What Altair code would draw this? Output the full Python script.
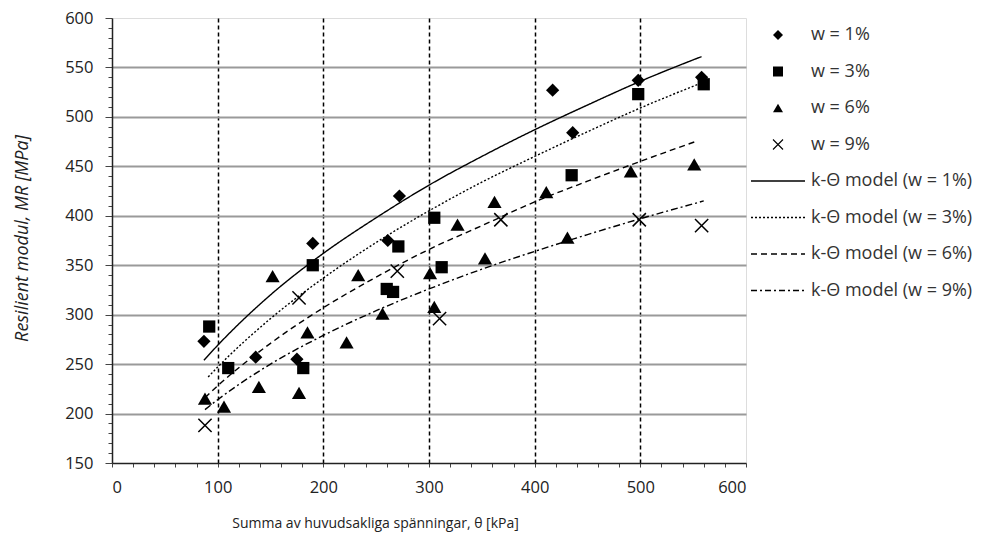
import altair as alt
import pandas as pd

# ---- measured data (w = water content) ----
d1_x = [87, 136, 175, 190, 261, 272, 417, 436, 498, 558]
d1_y = [273, 257, 255, 372, 375, 420, 527, 484, 537, 540]

d3_x = [92, 110, 181, 190, 260, 266, 271, 305, 312, 435, 498, 560]
d3_y = [288, 246, 246, 350, 326, 323, 369, 398, 348, 441, 523, 533]

d6_x = [88, 106, 139, 152, 177, 185, 222, 233, 256, 301, 305, 327, 353, 362, 411, 431, 491, 551]
d6_y = [215, 207, 227, 339, 221, 282, 272, 340, 301, 342, 308, 391, 357, 414, 424, 378, 445, 452]

d9_x = [88, 177, 270, 310, 368, 499, 558]
d9_y = [188, 317, 344, 296, 396, 396, 390]

# ---- k-theta model curves ----
m1_x = [87, 100, 150, 200, 250, 300, 350, 400, 450, 500, 558]
m1_y = [254, 269, 320, 362, 398, 431, 460, 487, 512, 536, 561]
m3_x = [91, 100, 150, 200, 250, 300, 350, 400, 450, 500, 557]
m3_y = [237, 247, 296, 337, 373, 405, 434, 460, 485, 509, 534]
m6_x = [88, 100, 150, 200, 250, 300, 350, 400, 450, 500, 552]
m6_y = [216, 228, 271, 307, 338, 366, 390, 414, 435, 455, 475]
m9_x = [88, 100, 150, 200, 250, 300, 350, 400, 450, 500, 560]
m9_y = [204, 214, 250, 279, 304, 326, 346, 364, 381, 397, 415]

point_labels = ["w = 1%", "w = 3%", "w = 6%", "w = 9%"]
model_labels = ["k-\u0398 model (w = 1%)", "k-\u0398 model (w = 3%)",
                "k-\u0398 model (w = 6%)", "k-\u0398 model (w = 9%)"]

x_ticks = list(range(0, 601, 20))
y_ticks = list(range(150, 601, 10))

rows = []
for lab, xs, ys in zip(point_labels, [d1_x, d3_x, d6_x, d9_x], [d1_y, d3_y, d6_y, d9_y]):
    rows += [{"theta": x, "MR": y, "series": lab} for x, y in zip(xs, ys)]
pts = pd.DataFrame(rows)

rows = []
for lab, xs, ys in zip(model_labels, [m1_x, m3_x, m6_x, m9_x], [m1_y, m3_y, m6_y, m9_y]):
    rows += [{"theta": x, "MR": y, "series": lab} for x, y in zip(xs, ys)]
lines = pd.DataFrame(rows)


# ---- symbol glyphs (unit paths, scaled by sqrt(size)/2), drawn as fills ----
def dash_path(pattern, half=5.4, h=0.14):
    segs, pos, i = [], -half, 0
    while pos < half - 1e-9:
        L = pattern[i % len(pattern)] if pattern else 2 * half
        end = min(pos + L, half)
        if i % 2 == 0:
            segs.append(f"M{pos:.2f},{-h}L{end:.2f},{-h}L{end:.2f},{h}L{pos:.2f},{h}Z")
        pos = end
        i += 1
    return "".join(segs)


def x_path(d=0.08):
    a, b = 1 + d, 1 - d
    r1 = f"M{-b},{-a}L{a},{b}L{b},{a}L{-a},{-b}Z"
    r2 = f"M{-b},{a}L{-a},{b}L{b},{-a}L{a},{-b}Z"
    return r1 + r2


shape_domain = point_labels + model_labels
shape_range = ["diamond", "square", "triangle-up", x_path(),
               dash_path(None), dash_path([0.4, 0.4]), dash_path([1.2, 0.8]),
               dash_path([1.2, 0.6, 0.4, 0.6])]

x_scale = alt.Scale(domain=[0, 600], nice=False)
y_scale = alt.Scale(domain=[150, 600], nice=False)

x_axis = alt.Axis(
    values=x_ticks,
    labelExpr="datum.value % 100 === 0 ? datum.label : ''",
    labelOverlap=False,
    grid=True,
    gridColor="black", gridDash=[4, 3], gridWidth=1.5,
    gridOpacity={"condition": {"test": "datum.value % 100 === 0 && datum.value > 0 && datum.value < 600", "value": 1}, "value": 0},
    tickSize=4, tickColor="#444", domainColor="#222", domainWidth=1.5,
    labelFont="Open Sans", labelFontSize=16.5, labelColor="#222", labelPadding=12,
    title="Summa av huvudsakliga sp\u00e4nningar, \u03b8 [kPa]",
    titleFont="Open Sans", titleFontSize=14, titleFontWeight="normal", titleColor="#222",
    titleX=263, titleY=60, titleBaseline="middle", titleAlign="center",
)
y_axis = alt.Axis(
    values=y_ticks,
    labelExpr="datum.value % 50 === 0 ? datum.label : ''",
    labelOverlap=False,
    grid=True,
    gridColor="#9a9a9a", gridWidth=2,
    gridOpacity={"condition": {"test": "datum.value % 50 === 0 && datum.value > 150 && datum.value < 600", "value": 1}, "value": 0},
    tickSize={"condition": {"test": "datum.value % 50 === 0", "value": 7}, "value": 4},
    tickColor="#444", domainColor="#222", domainWidth=1.5,
    labelFont="Open Sans", labelFontSize=16.5, labelColor="#222", labelPadding=12,
    title="Resilient modul,  MR [MPa]",
    titleFont="Open Sans", titleFontSize=18, titleFontStyle="italic", titleFontWeight="normal",
    titleColor="#222", titleX=-90, titleY=220, titleBaseline="middle", titleAlign="center",
)

legend = alt.Legend(
    title=None, orient="none", legendX=657, legendY=8,
    symbolSize=100, symbolFillColor="black", symbolStrokeWidth=0,
    labelFont="Open Sans", labelFontSize=18, labelColor="#333",
    labelOffset=24, rowPadding=18.5, padding=0, labelLimit=300,
)

X = alt.X("theta:Q", scale=x_scale, axis=x_axis)
Y = alt.Y("MR:Q", scale=y_scale, axis=y_axis)

base_lines = alt.Chart(lines).mark_line(color="black", strokeWidth=1.4, interpolate="monotone").encode(
    x=X, y=Y,
    detail="series:N",
    strokeDash=alt.StrokeDash("series:N",
                              scale=alt.Scale(domain=model_labels,
                                              range=[[1, 0], [2, 2], [6, 4], [7, 3, 2, 3]]),
                              legend=None),
)

points = alt.Chart(pts).mark_point(opacity=1, filled=True, color="black",
                                   strokeWidth=0).encode(
    x=X, y=Y,
    shape=alt.Shape("series:N", scale=alt.Scale(domain=shape_domain, range=shape_range), legend=legend),
    size=alt.Size("series:O", scale=alt.Scale(type="ordinal", domain=point_labels,
                                              range=[175, 150, 200, 175]),
                  legend=None),
)

chart = alt.layer(base_lines, points).properties(
    width=634, height=445,
    autosize=alt.AutoSizeParams(type="none"),
    padding={"left": 112, "top": 18, "right": 236, "bottom": 79},
).configure_view(stroke="#333", strokeWidth=1.5).configure(background="white")

chart.save("out.html", embed_options={"renderer": "svg", "actions": False})
